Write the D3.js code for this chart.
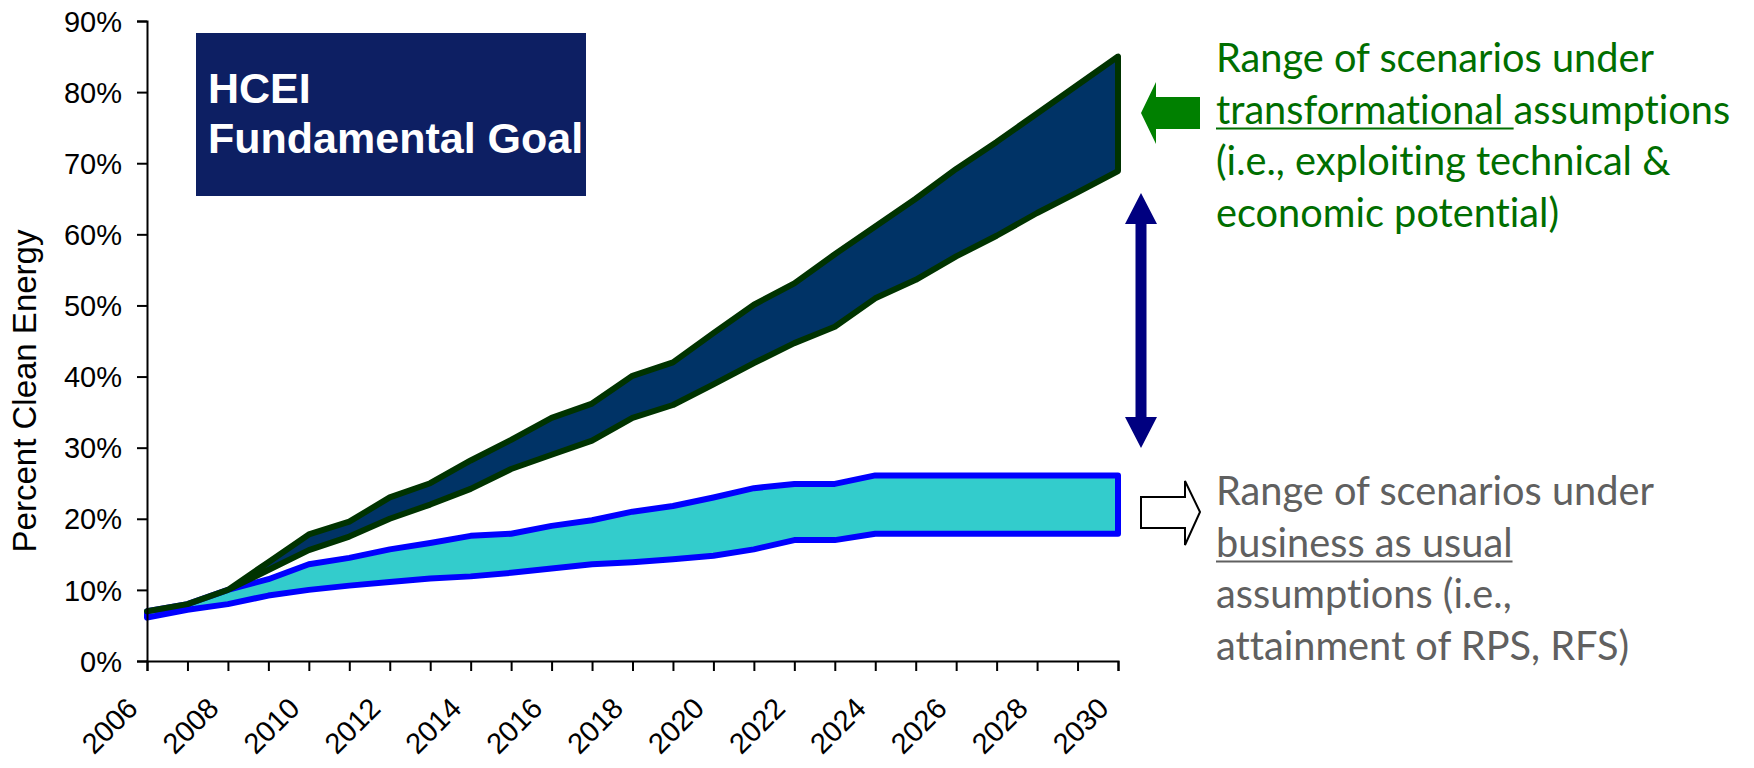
<!DOCTYPE html>
<html>
<head>
<meta charset="utf-8">
<script src="https://cdn.jsdelivr.net/npm/d3@7"></script>
<style>
  html, body { margin: 0; padding: 0; background: #fff; }
  svg { display: block; }
</style>
</head>
<body>
<svg id="chart" width="1754" height="768"></svg>
<script>
// categories
const years = [2006, 2007, 2008, 2009, 2010, 2011, 2012, 2013, 2014, 2015, 2016, 2017, 2018,
               2019, 2020, 2021, 2022, 2023, 2024, 2025, 2026, 2027, 2028, 2029, 2030];

// transformational scenarios (percent clean energy), upper and lower edge of the band
const transformHigh = [7.0, 8.0, 10.0, 13.9, 17.8, 19.6, 23.0, 25.0, 28.2, 31.1, 34.2, 36.2, 40.1,
                       42.0, 46.1, 50.1, 53.1, 57.2, 61.1, 65.0, 69.2, 73.0, 77.0, 81.0, 85.0];
const transformLow  = [7.0, 8.0, 10.0, 12.8, 15.6, 17.5, 20.0, 22.0, 24.2, 27.0, 29.0, 31.0, 34.2,
                       36.0, 38.9, 41.9, 44.7, 47.0, 51.0, 53.6, 56.9, 59.8, 63.0, 65.9, 68.9];

// business as usual scenarios
const bauHigh = [7.0, 8.0, 10.0, 11.5, 13.6, 14.5, 15.7, 16.6, 17.6, 17.9, 19.0, 19.8, 21.0,
                 21.8, 23.0, 24.3, 24.9, 24.9, 26.1, 26.1, 26.1, 26.1, 26.1, 26.1, 26.1];
const bauLow  = [6.1, 7.2, 8.0, 9.2, 10.0, 10.6, 11.1, 11.6, 11.9, 12.4, 13.0, 13.6, 13.9,
                 14.3, 14.8, 15.7, 17.0, 17.0, 17.9, 17.9, 17.9, 17.9, 17.9, 17.9, 17.9];

// tick labels
const xTickLabels = [2006, 2008, 2010, 2012, 2014, 2016, 2018, 2020, 2022, 2024, 2026, 2028, 2030];
const yTicks = [0, 10, 20, 30, 40, 50, 60, 70, 80, 90];

// annotation texts
const goalLines = ["HCEI", "Fundamental Goal"];
const transformNote = ["Range of scenarios under", "transformational assumptions",
                       "(i.e., exploiting technical &", "economic potential)"];
const bauNote = ["Range of scenarios under", "business as usual",
                 "assumptions (i.e.,", "attainment of RPS, RFS)"];

const svg = d3.select("#chart");
const axisFont = "'Liberation Sans', Arial, sans-serif";
const noteFont = "Lato, 'Open Sans', sans-serif";

const x = d3.scaleLinear().domain([2006, 2030]).range([147, 1118]);
const y = d3.scaleLinear().domain([0, 90]).range([661, 21]);

// bands
const band = (lo, hi) => d3.area()
    .x((d, i) => x(years[i]))
    .y0((d, i) => y(lo[i]))
    .y1((d, i) => y(hi[i]));

svg.append("path")
    .datum(years)
    .attr("d", band(bauLow, bauHigh))
    .attr("fill", "#33cccc")
    .attr("stroke", "#0000ff")
    .attr("stroke-width", 6)
    .attr("stroke-linejoin", "round");

svg.append("path")
    .datum(years)
    .attr("d", band(transformLow, transformHigh))
    .attr("fill", "#003366")
    .attr("stroke", "#003300")
    .attr("stroke-width", 6)
    .attr("stroke-linejoin", "round");

// axes
const yAxis = svg.append("g")
    .attr("transform", `translate(${x(2006)},0)`)
    .call(d3.axisLeft(y).tickValues(yTicks).tickSize(10).tickPadding(15).tickFormat(d => d + "%"));

const xAxis = svg.append("g")
    .attr("transform", `translate(0,${y(0)})`)
    .call(d3.axisBottom(x).tickValues(years).tickSize(10)
      .tickFormat(d => xTickLabels.includes(d) ? String(d) : ""));

[yAxis, xAxis].forEach(g => {
  g.select(".domain").attr("stroke", "#000").attr("stroke-width", 2);
  g.selectAll(".tick line").attr("stroke", "#000").attr("stroke-width", 2);
  g.selectAll("text")
      .attr("font-family", axisFont)
      .attr("font-size", 29)
      .attr("fill", "#000");
});
yAxis.selectAll("text").attr("dy", "0.35em");
xAxis.selectAll("text")
    .attr("y", 0)
    .attr("dy", 0)
    .attr("text-anchor", "end")
    .attr("transform", "translate(-8,49) rotate(-45)");

svg.append("text")
    .attr("transform", "translate(36,391) rotate(-90)")
    .attr("text-anchor", "middle")
    .attr("font-family", axisFont)
    .attr("font-size", 33)
    .attr("fill", "#000")
    .text("Percent Clean Energy");

// goal box
svg.append("rect")
    .attr("x", 196).attr("y", 33)
    .attr("width", 390).attr("height", 163)
    .attr("fill", "#0d1f63");

svg.append("g")
    .selectAll("text")
    .data(goalLines)
    .join("text")
      .attr("x", 208)
      .attr("y", (d, i) => 103 + i * 50)
      .attr("font-family", axisFont)
      .attr("font-weight", "bold")
      .attr("font-size", 43)
      .attr("fill", "#fff")
      .text(d => d);

// arrows
svg.append("path")   // green arrow pointing at the transformational band
    .attr("d", "M1141,113 L1156,82 L1156,97 L1200,97 L1200,129 L1156,129 L1156,144 Z")
    .attr("fill", "#008000");

svg.append("path")   // double arrow between the two bands
    .attr("d", "M1141,193 L1157,224 L1146.5,224 L1146.5,417 L1157,417 L1141,448 L1125,417 L1135.5,417 L1135.5,224 L1125,224 Z")
    .attr("fill", "#000080");

svg.append("path")   // hollow arrow pointing at the BAU band
    .attr("d", "M1200,512 L1185,481 L1185,497 L1141,497 L1141,528 L1185,528 L1185,545 Z")
    .attr("fill", "#fff")
    .attr("stroke", "#000")
    .attr("stroke-width", 2)
    .attr("stroke-linejoin", "miter");

// notes
function note(lines, top, color, underlineChars) {
  const g = svg.append("g").style("font-variant-ligatures", "none");
  const probe = g.append("text").attr("font-family", noteFont).attr("font-size", 100).text(lines[0]);
  const size = 100 * 438 / probe.node().getComputedTextLength();
  probe.remove();
  const texts = g.selectAll("text")
    .data(lines)
    .join("text")
      .attr("x", 1216)
      .attr("y", (d, i) => top + i * 51.5)
      .attr("font-family", noteFont)
      .attr("font-size", size)
      .attr("fill", color)
      .style("white-space", "pre")
      .text(d => d);
  const second = texts.nodes()[1];
  const w = second.getSubStringLength(0, underlineChars);
  g.append("rect")
      .attr("x", 1216).attr("y", top + 51.5 + 4)
      .attr("width", w).attr("height", 2)
      .attr("fill", color);
}
note(transformNote, 72, "#006e00", "transformational ".length);
note(bauNote, 505, "#606060", "business as usual".length);
</script>
</body>
</html>
